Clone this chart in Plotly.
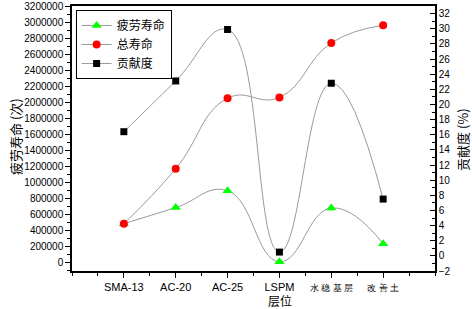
import plotly.graph_objects as go

categories = ["SMA-13", "AC-20", "AC-25", "LSPM", "水稳基层", "改善土"]
fatigue_life = [485000, 685000, 895000, 10000, 680000, 235000]
total_life = [485000, 1170000, 2050000, 2060000, 2740000, 2960000]
contribution = [16.4, 23.1, 29.9, 0.5, 22.8, 7.5]

x_pos = list(range(len(categories)))
tick_text = categories[:4] + ["<span style='font-size:9px'>水 稳 基 层</span>",
                               "<span style='font-size:9px'>改 善 土</span>"]

line_color = "#9a9a9a"
serif = "Noto Sans CJK SC"

L, R, T, B, W, H = 72, 37, 6, 38, 472, 309
pw, ph = W - L - R, H - T - B


def px_to_paper(px, py):
    return (px - L) / pw, (H - B - py) / ph


fig = go.Figure()
fig.add_trace(go.Scatter(
    x=x_pos, y=fatigue_life, name="疲劳寿命", mode="lines+markers",
    line=dict(color=line_color, width=1, shape="spline", smoothing=1.3),
    marker=dict(symbol="triangle-up", color="#00ff00", size=9)))
fig.add_trace(go.Scatter(
    x=x_pos, y=total_life, name="总寿命", mode="lines+markers",
    line=dict(color=line_color, width=1, shape="spline", smoothing=1.3),
    marker=dict(symbol="circle", color="#ff0000", size=8)))
fig.add_trace(go.Scatter(
    x=x_pos, y=contribution, name="贡献度", mode="lines+markers", yaxis="y2",
    line=dict(color=line_color, width=1, shape="spline", smoothing=1.3),
    marker=dict(symbol="square", color="#000000", size=7)))

titles = [("层位", 280, 300, 0, 12), ("疲劳寿命 (次)", 15, 137, -90, 13),
          ("贡献度 (%)", 462, 140, -90, 13)]
annotations = []
for text, px, py, ang, fs in titles:
    ax, ay = px_to_paper(px, py)
    annotations.append(dict(text=text, x=ax, y=ay, xref="paper", yref="paper",
                            xanchor="center", yanchor="middle", textangle=ang,
                            showarrow=False, font=dict(family=serif, size=fs)))

fig.update_layout(
    width=W, height=H,
    margin=dict(l=L, r=R, t=T, b=B, autoexpand=False),
    paper_bgcolor="white", plot_bgcolor="white",
    font=dict(family="Liberation Sans, Arial", size=10, color="black"),
    showlegend=True,
    legend=dict(x=0.01, y=0.985, xanchor="left", yanchor="top",
                bordercolor="black", borderwidth=1, bgcolor="white",
                font=dict(family=serif, size=12), tracegroupgap=0,
                itemwidth=30),
    xaxis=dict(
        range=[-1, 6], tickmode="array", tickvals=x_pos, ticktext=tick_text,
        automargin=False, tickfont=dict(size=11),
        showline=True, linecolor="black", linewidth=1.5, mirror=True,
        ticks="outside", ticklen=5, tickcolor="black", showgrid=False, zeroline=False,
        minor=dict(dtick=0.5, tick0=0, ticks="outside", ticklen=3, tickcolor="black"),
    ),
    yaxis=dict(
        range=[-106000, 3201000], tickmode="linear", tick0=0, dtick=200000,
        tickformat="d", automargin=False, tickfont=dict(size=10),
        showline=True, linecolor="black", linewidth=1.5, mirror=True,
        ticks="outside", ticklen=5, tickcolor="black", showgrid=False, zeroline=False,
        minor=dict(dtick=100000, tick0=0, ticks="outside", ticklen=3, tickcolor="black"),
    ),
    yaxis2=dict(
        range=[-2, 33.0], overlaying="y", side="right", tickmode="linear",
        tick0=0, dtick=2, automargin=False, tickfont=dict(size=10),
        showline=True, linecolor="black", linewidth=1.5,
        ticks="inside", ticklen=5, tickcolor="black", showgrid=False, zeroline=False,
        minor=dict(dtick=1, tick0=0, ticks="inside", ticklen=3, tickcolor="black"),
    ),
    annotations=annotations,
)

fig.write_html("out.html", post_script="document.body.style.margin='0';",
               config={"displayModeBar": False})
